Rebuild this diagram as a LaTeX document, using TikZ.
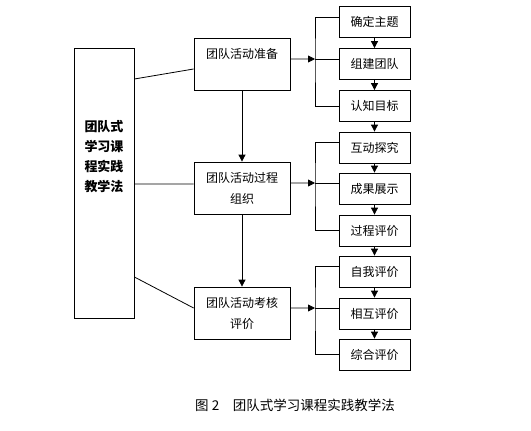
\documentclass[tikz,border=0pt]{standalone}
\usepackage{fontspec}
\setmainfont{Noto Sans CJK SC}
\usetikzlibrary{arrows.meta}
\pgfdeclarelayer{bg}
\pgfsetlayers{bg,main}
\tikzset{
    every node/.style={rectangle, inner sep=0mm, draw, line width=0.8pt, align=center, font=\fontsize{12pt}{21pt}\selectfont}
}
\tikzset{bigbox/.style={minimum width=60pt, minimum height=270pt}}
\tikzset{midbox/.style={minimum width=96pt, minimum height=52pt}}
\tikzset{smallbox/.style={minimum width=71pt, minimum height=31pt}}
\tikzset{plain/.style={draw=none}}
\tikzset{arr/.style={line width=0.8pt, -{Triangle[length=7pt,width=7pt]}}}

\begin{document}
\begin{tikzpicture}
        \useasboundingbox (0cm, 0cm) rectangle (18.662473cm, -15.147883cm);
        \node (L) [bigbox] at (3.655174cm, -6.431700cm) {};
        \node (t0) [plain, font=\fontsize{13pt}{20pt}\selectfont\bfseries] at (3.655174cm, -5.517906cm) {团队式\\学习课\\程实践\\教学法};
        \node (m1) [midbox] at (8.505308cm, -2.249338cm) {团队活动准备\\\mbox{}};
        \node (m2) [midbox] at (8.505308cm, -6.607429cm) {团队活动过程\\组织};
        \node (m3) [midbox] at (8.505308cm, -11.000667cm) {团队活动考核\\评价};
        \node (r1) [smallbox] at (13.162139cm, -0.773210cm) {确定主题};
        \node (r2) [smallbox] at (13.162139cm, -2.249338cm) {组建团队};
        \node (r3) [smallbox] at (13.162139cm, -3.725465cm) {认知目标};
        \node (r4) [smallbox] at (13.162139cm, -5.184020cm) {互动探究};
        \node (r5) [smallbox] at (13.162139cm, -6.625002cm) {成果展示};
        \node (r6) [smallbox] at (13.162139cm, -8.101130cm) {过程评价};
        \node (r7) [smallbox] at (13.162139cm, -9.542112cm) {自我评价};
        \node (r8) [smallbox] at (13.162139cm, -11.018240cm) {相互评价};
        \node (r9) [smallbox] at (13.162139cm, -12.459222cm) {综合评价};
        \node (cap) [plain, font=\fontsize{13.5pt}{16pt}\selectfont] at (10.368041cm, -14.234090cm) {图 2\hspace{1em}团队式学习课程实践教学法};
        \coordinate (b1) at (11.070959cm, -2.073608cm);
        \coordinate (b2) at (11.070959cm, -6.431700cm);
        \coordinate (b3) at (11.070959cm, -10.824937cm);
        \begin{pgfonlayer}{bg}
                \draw [line width=0.8pt] ([yshift=104pt]L.east) -- ([yshift=-5pt]m1.west);
                \draw [line width=0.8pt] ([yshift=-1pt]L.east) -- ([yshift=4pt]m2.west);
                \draw [line width=0.8pt] ([yshift=-94pt]L.east) -- ([yshift=5pt]m3.west);
                \draw (m1) edge [arr] (m2);
                \draw (m2) edge [arr] (m3);
                \draw [arr] ([yshift=5pt]m1.east) -- (b1);
                \draw [arr] ([yshift=5pt]m2.east) -- (b2);
                \draw [arr] ([yshift=5pt]m3.east) -- (b3);
                \draw [line width=1pt] ([yshift=5pt]r1.west) -| (b1) |- (r3.west);
                \draw [line width=1pt] (b1) -- (b1 -| r2.west);
                \draw [line width=1pt] ([yshift=5pt]r4.west) -| (b2) |- (r6.west);
                \draw [line width=1pt] (b2) -- (b2 -| r5.west);
                \draw [line width=1pt] ([yshift=5pt]r7.west) -| (b3) |- (r9.west);
                \draw [line width=1pt] (b3) -- (b3 -| r8.west);
                \draw (r1) edge [arr] (r2);
                \draw (r2) edge [arr] (r3);
                \draw (r3) edge [arr] (r4);
                \draw (r4) edge [arr] (r5);
                \draw (r5) edge [arr] (r6);
                \draw (r6) edge [arr] (r7);
                \draw (r7) edge [arr] (r8);
                \draw (r8) edge [arr] (r9);
        \end{pgfonlayer}
\end{tikzpicture}
\end{document}
